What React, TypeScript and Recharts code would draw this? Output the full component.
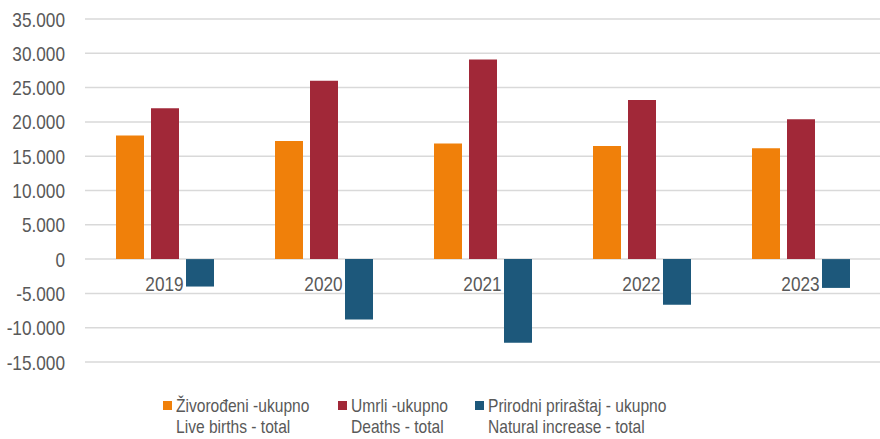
import React from 'react';
import {
  BarChart,
  Bar,
  XAxis,
  YAxis,
  CartesianGrid,
  Legend,
  ReferenceDot,
} from 'recharts';

const years = ['2019', '2020', '2021', '2022', '2023'];
const liveBirths = [18000, 17200, 16850, 16500, 16150];
const deaths = [22000, 26000, 29100, 23200, 20400];
const naturalIncrease = [-4000, -8800, -12200, -6650, -4200];
const yTicks = [-15000, -10000, -5000, 0, 5000, 10000, 15000, 20000, 25000, 30000, 35000];

const seriesNames = [
  ['Živorođeni -ukupno', 'Live births - total'],
  ['Umrli -ukupno', 'Deaths - total'],
  ['Prirodni priraštaj - ukupno', 'Natural increase - total'],
];
const colors = ['#F0800A', '#A12838', '#1D587B'];

const data = years.map((year, i) => ({
  year,
  births: liveBirths[i],
  deaths: deaths[i],
  increase: naturalIncrease[i],
}));

// no narrow font installed, so squeeze Liberation Sans horizontally
const FONT = '"Liberation Sans", Arial, sans-serif';
const SQUEEZE = 0.82;
const TEXT = '#595959';

const fmt = (v: number) => {
  const s = Math.abs(v).toString().replace(/\B(?=(\d{3})+(?!\d))/g, '.');
  return v < 0 ? '-' + s : s;
};

const YTick = (props: any) => {
  const { x, y, payload } = props;
  return (
    <text
      transform={`translate(${x},${y}) scale(${SQUEEZE},1)`}
      textAnchor="end"
      dy="0.36em"
      fill={TEXT}
      fontSize={21}
      fontFamily={FONT}
    >
      {fmt(payload.value)}
    </text>
  );
};

const YearLabel = (props: any) => {
  const { viewBox, value } = props;
  const cx = viewBox.x + viewBox.width / 2;
  const top = viewBox.y + viewBox.height + 17;
  return (
    <text
      transform={`translate(${cx},${top}) scale(${SQUEEZE},1)`}
      textAnchor="middle"
      dy="0.72em"
      fill={TEXT}
      fontSize={21}
      fontFamily={FONT}
    >
      {value}
    </text>
  );
};

const itemLefts = [163, 338, 475];

const LegendContent = () => (
  <div style={{ height: 77, position: 'relative', fontFamily: FONT, fontSize: 19, color: TEXT }}>
    {seriesNames.map((n, i) => (
      <div key={i} style={{ position: 'absolute', left: itemLefts[i], top: 38 }}>
        <div style={{ position: 'absolute', left: 0, top: 1, width: 9, height: 9, background: colors[i] }} />
        <div
          style={{
            position: 'absolute',
            left: 13,
            top: -5,
            lineHeight: '21px',
            whiteSpace: 'nowrap',
            transform: `scaleX(${SQUEEZE})`,
            transformOrigin: 'left top',
          }}
        >
          <div>{n[0]}</div>
          <div>{n[1]}</div>
        </div>
      </div>
    ))}
  </div>
);

export default function App() {
  return (
    <div style={{ width: 880, height: 439, background: '#fff', fontFamily: FONT }}>
      <style>{'body{margin:0}'}</style>
      <BarChart
        width={880}
        height={439}
        data={data}
        margin={{ top: 19, right: 0, bottom: 0, left: 0 }}
        barSize={28}
        barGap={7}
      >
        <CartesianGrid vertical={false} stroke="#d9d9d9" strokeWidth={1.5} />
        <XAxis dataKey="year" hide />
        <YAxis
          width={85}
          domain={[-15000, 35000]}
          ticks={yTicks}
          axisLine={false}
          tickLine={false}
          tickMargin={14}
          tick={<YTick />}
        />
        <Legend verticalAlign="bottom" content={<LegendContent />} />
        <Bar dataKey="births" fill={colors[0]} isAnimationActive={false} />
        <Bar dataKey="deaths" fill={colors[1]} isAnimationActive={false} />
        <Bar dataKey="increase" fill={colors[2]} isAnimationActive={false} />
        {years.map((y) => (
          <ReferenceDot
            key={y}
            x={y}
            y={0}
            r={0}
            fill="none"
            stroke="none"
            label={<YearLabel value={y} />}
          />
        ))}
      </BarChart>
    </div>
  );
}
